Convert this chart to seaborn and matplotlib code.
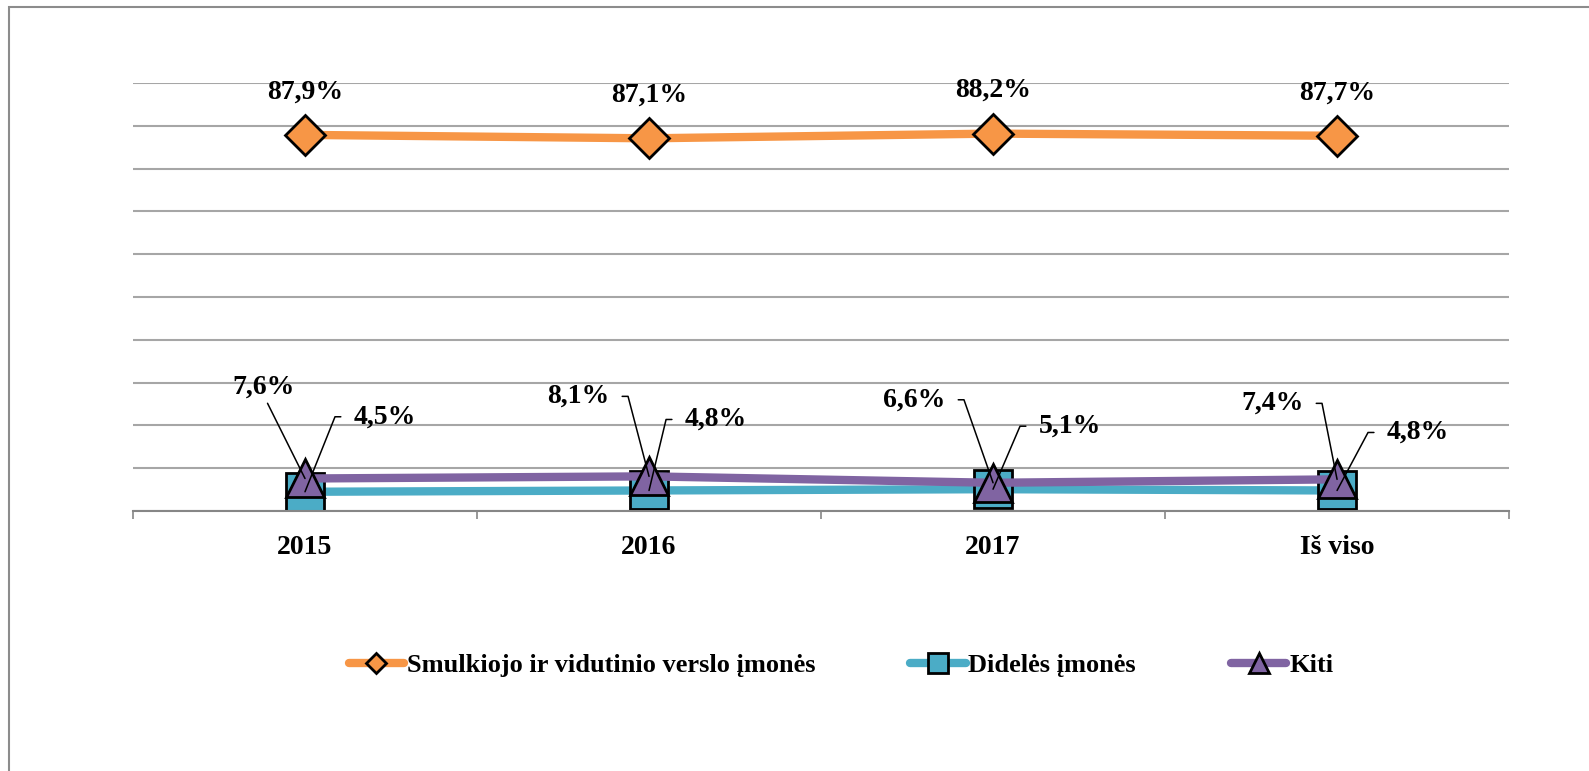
import math
import numpy as np
import pandas as pd
import matplotlib
matplotlib.use("Agg")
import matplotlib.pyplot as plt
from matplotlib.patches import Rectangle
import seaborn as sns

categories = ["2015", "2016", "2017", "Iš viso"]
svv = [87.9, 87.1, 88.2, 87.7]
didelės = [4.5, 4.8, 5.1, 4.8]
kiti = [7.6, 8.1, 6.6, 7.4]
svv_labels = ["87,9%", "87,1%", "88,2%", "87,7%"]
didelės_labels = ["4,5%", "4,8%", "5,1%", "4,8%"]
kiti_labels = ["7,6%", "8,1%", "6,6%", "7,4%"]

sns.set_theme(style="white")
plt.rcParams["font.family"] = ["Liberation Serif", "DejaVu Serif"]
plt.rcParams["font.weight"] = "bold"
plt.rcParams["text.color"] = "black"
plt.rcParams["xtick.color"] = "black"

fig = plt.figure(figsize=(15.89, 7.71), dpi=100)
ax = fig.add_axes([0.0837, 0.3372, 0.866, 0.555])

xpos = np.arange(len(categories))
series = [
    ("Smulkiojo ir vidutinio verslo įmonės", svv, "#F79646", "D", 20),
    ("Didelės įmonės", didelės, "#4BACC6", "s", 28),
    ("Kiti", kiti, "#8064A2", "^", 28),
]
for name, vals, col, mk, ms in series:
    df = pd.DataFrame({"x": xpos, "y": vals})
    sns.lineplot(data=df, x="x", y="y", ax=ax, color=col, lw=6, marker=mk,
                 markersize=ms, markeredgecolor="black", markeredgewidth=2,
                 markerfacecolor=col, label=name)

# data labels
lab_font = dict(fontsize=20, fontweight="bold", color="black")
for i, v in enumerate(svv):
    ax.annotate(svv_labels[i], (xpos[i], v), xytext=(0, 43),
                textcoords="offset pixels", ha="center", va="center", **lab_font)


def leader(text, xy, off, side):
    half, run = 29, 21
    if side == "left":
        cx = off[0] + half + run
        rel = (1, 0.5)
    else:
        cx = off[0] - half - run
        rel = (0, 0.5)
    if side == "left" and cx > -6:
        # label sits almost above the point: plain straight leader
        arrow = dict(arrowstyle="-", color="black", lw=1.1, relpos=(0.55, -0.1),
                     shrinkA=0, shrinkB=0, connectionstyle="arc3")
    else:
        angB = math.degrees(math.atan2(off[1], cx))
        arrow = dict(arrowstyle="-", color="black", lw=1.1, relpos=rel,
                     shrinkA=7, shrinkB=0,
                     connectionstyle=f"angle,angleA=0,angleB={angB:.1f},rad=0")
    ax.annotate(text, xy, xytext=off, textcoords="offset pixels",
                ha="center", va="center", arrowprops=arrow, **lab_font)


kiti_off = [(-41, 91), (-71, 80), (-79, 83), (-65, 76)]
did_off = [(80, 75), (67, 71), (77, 63), (81, 58)]
for i in range(len(categories)):
    leader(kiti_labels[i], (xpos[i], kiti[i]), kiti_off[i], "left")
    leader(didelės_labels[i], (xpos[i], didelės[i]), did_off[i], "right")

ax.set_xlim(-0.5, len(categories) - 0.5)
ax.set_ylim(0, 100)
ax.set_yticks(np.arange(0, 101, 10))
ax.set_yticklabels([])
ax.tick_params(axis="y", length=0)
ax.grid(axis="y", color="#A6A6A6", lw=1.5)
ax.grid(axis="x", visible=False)
ax.set_xticks(xpos)
ax.set_xticklabels(categories, fontsize=20, fontweight="bold")
ax.set_xticks(np.arange(-0.5, len(categories), 1), minor=True)
ax.tick_params(axis="x", which="major", length=0, pad=17, labelcolor="black")
ax.tick_params(axis="x", which="minor", length=6, width=1.2, color="#868686",
               direction="out", bottom=True)
ax.set_xlabel("")
ax.set_ylabel("")
for s in ["top", "left", "right"]:
    ax.spines[s].set_visible(False)
ax.spines["bottom"].set_color("#868686")
ax.spines["bottom"].set_linewidth(1.5)

leg = ax.legend(loc="center", bbox_to_anchor=(0.5145, -0.36), ncol=3, frameon=False,
                fontsize=19, markerscale=0.5, handlelength=2.1, handletextpad=0.1,
                columnspacing=3.6)
for t in leg.get_texts():
    t.set_fontweight("bold")
    t.set_color("black")

fig.patches.append(Rectangle((9 / 1589, -0.1), 1.2, 1.1 - 7 / 771,
                             transform=fig.transFigure, fill=False,
                             edgecolor="#8C8C8C", lw=1.5, zorder=0))

fig.savefig("out.png", dpi=100)
